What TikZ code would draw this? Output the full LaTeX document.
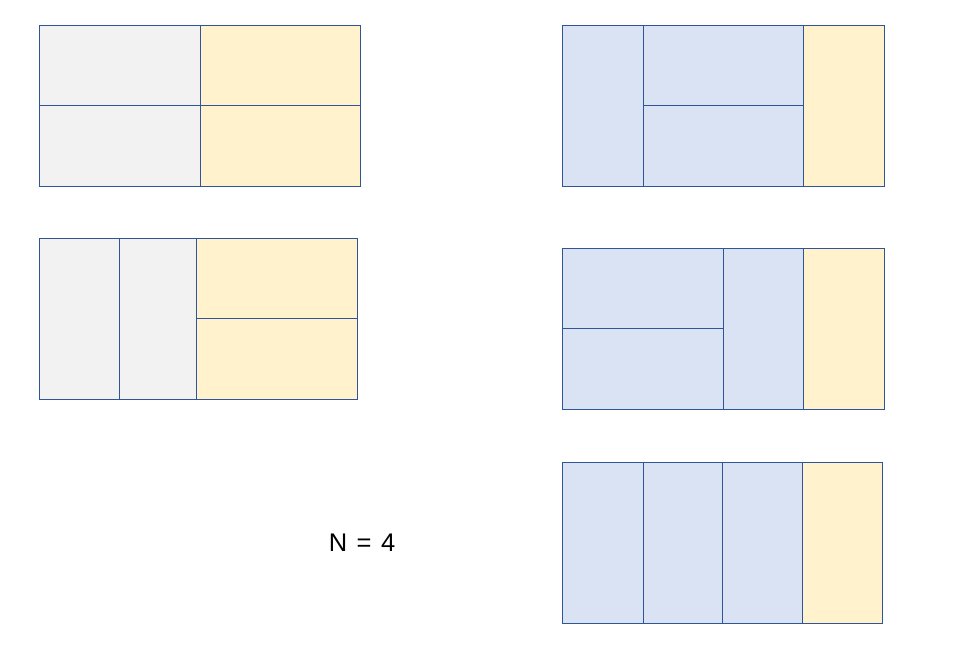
\documentclass[tikz,border=0pt]{standalone}
\usepackage{fontspec}
\setmainfont{Liberation Sans}
\definecolor{cellgray}{HTML}{F2F2F2}
\definecolor{cellyellow}{HTML}{FFF2CC}
\definecolor{cellblue}{HTML}{DAE3F3}
\definecolor{edgeblue}{HTML}{2F5597}
\tikzset{
  gcell/.style={fill=cellgray, draw=edgeblue, line width=0.9pt},
  ycell/.style={fill=cellyellow, draw=edgeblue, line width=0.9pt},
  bcell/.style={fill=cellblue, draw=edgeblue, line width=0.9pt}
}
\begin{document}
\begin{tikzpicture}[x=1pt, y=-1pt]
        \useasboundingbox (0,0) rectangle (963,654);

        % left column
        \draw[gcell] (39,25) rectangle (200,105);
        \draw[gcell] (39,105) rectangle (200,186);
        \draw[ycell] (200,25) rectangle (360,105);
        \draw[ycell] (200,105) rectangle (360,186);

        \draw[gcell] (39,238) rectangle (119,399);
        \draw[gcell] (119,238) rectangle (196,399);
        \draw[ycell] (196,238) rectangle (357,318);
        \draw[ycell] (196,318) rectangle (357,399);

        % right column
        \draw[bcell] (562,25) rectangle (643,186);
        \draw[bcell] (643,25) rectangle (803,105);
        \draw[bcell] (643,105) rectangle (803,186);
        \draw[ycell] (803,25) rectangle (884,186);

        \draw[bcell] (562,248) rectangle (723,328);
        \draw[bcell] (562,328) rectangle (723,409);
        \draw[bcell] (723,248) rectangle (803,409);
        \draw[ycell] (803,248) rectangle (884,409);

        \draw[bcell] (562,462) rectangle (643,623);
        \draw[bcell] (643,462) rectangle (722,623);
        \draw[bcell] (722,462) rectangle (802,623);
        \draw[ycell] (802,462) rectangle (882,623);

        \node (count) at (362,543) {\fontsize{25.5}{30}\selectfont N\hspace{9.5pt}=\hspace{9.5pt}4};
      \end{tikzpicture}
\end{document}
